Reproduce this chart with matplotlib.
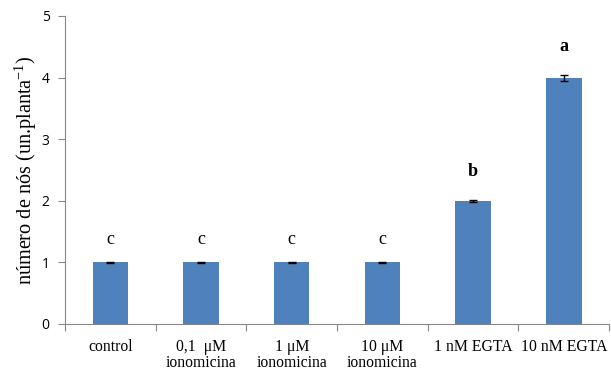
import matplotlib
matplotlib.use("Agg")
import matplotlib.pyplot as plt
import numpy as np

plt.rcParams["mathtext.fontset"] = "custom"
plt.rcParams["mathtext.rm"] = "Liberation Serif"
plt.rcParams["mathtext.it"] = "Liberation Serif:italic"
plt.rcParams["mathtext.bf"] = "Liberation Serif:bold"

categories = ["control", "0,1  μM\nionomicina", "1 μM\nionomicina", "10 μM\nionomicina", "1 nM EGTA", "10 nM EGTA"]
values = [1.0, 1.0, 1.0, 1.0, 2.0, 4.0]
errors = [0.01, 0.01, 0.01, 0.01, 0.02, 0.05]
letters = ["c", "c", "c", "c", "b", "a"]
letter_bold = [False, False, False, False, True, True]
letter_y = [1.24, 1.24, 1.24, 1.24, 2.34, 4.37]

fig = plt.figure(figsize=(6.11, 3.71), dpi=100)
ax = fig.add_axes([0.1064, 0.1267, 0.8906, 0.8302])

x = np.arange(len(categories))
ax.bar(x, values, width=0.39, color="#4F81BD", zorder=2)
ax.errorbar(x, values, yerr=errors, fmt="none", ecolor="black", elinewidth=1, capsize=3, capthick=1, zorder=3)

for xi, t, b, yy in zip(x, letters, letter_bold, letter_y):
    ax.text(xi, yy, t, ha="center", va="bottom", fontsize=13, family="Liberation Serif",
            fontweight="bold" if b else "normal")

ax.set_xlim(-0.5, len(categories) - 0.5)
ax.set_ylim(0, 5)
ax.set_yticks([0, 1, 2, 3, 4, 5])
ax.set_yticklabels(["0", "1", "2", "3", "4", "5"], family="Open Sans", fontsize=10)

ax.set_xticks(np.arange(-0.5, len(categories), 1.0))
ax.set_xticklabels([])
ax.set_xticks(x, minor=True)
ax.set_xticklabels(categories, minor=True, family="Liberation Serif", fontsize=11.3, linespacing=1.0, va="top")
ax.tick_params(axis="x", which="minor", length=0, pad=11)
ax.tick_params(axis="x", which="major", length=5, color="#888888", direction="out")
ax.tick_params(axis="y", length=5, color="#888888", direction="out", pad=6)

for s in ["top", "right"]:
    ax.spines[s].set_visible(False)
for s in ["left", "bottom"]:
    ax.spines[s].set_color("#888888")

ax.set_ylabel("número de nós (un.planta$^{\\mathrm{-1}}$)", family="Liberation Serif", fontsize=14.6, labelpad=2)

fig.savefig("out.png", dpi=100)
